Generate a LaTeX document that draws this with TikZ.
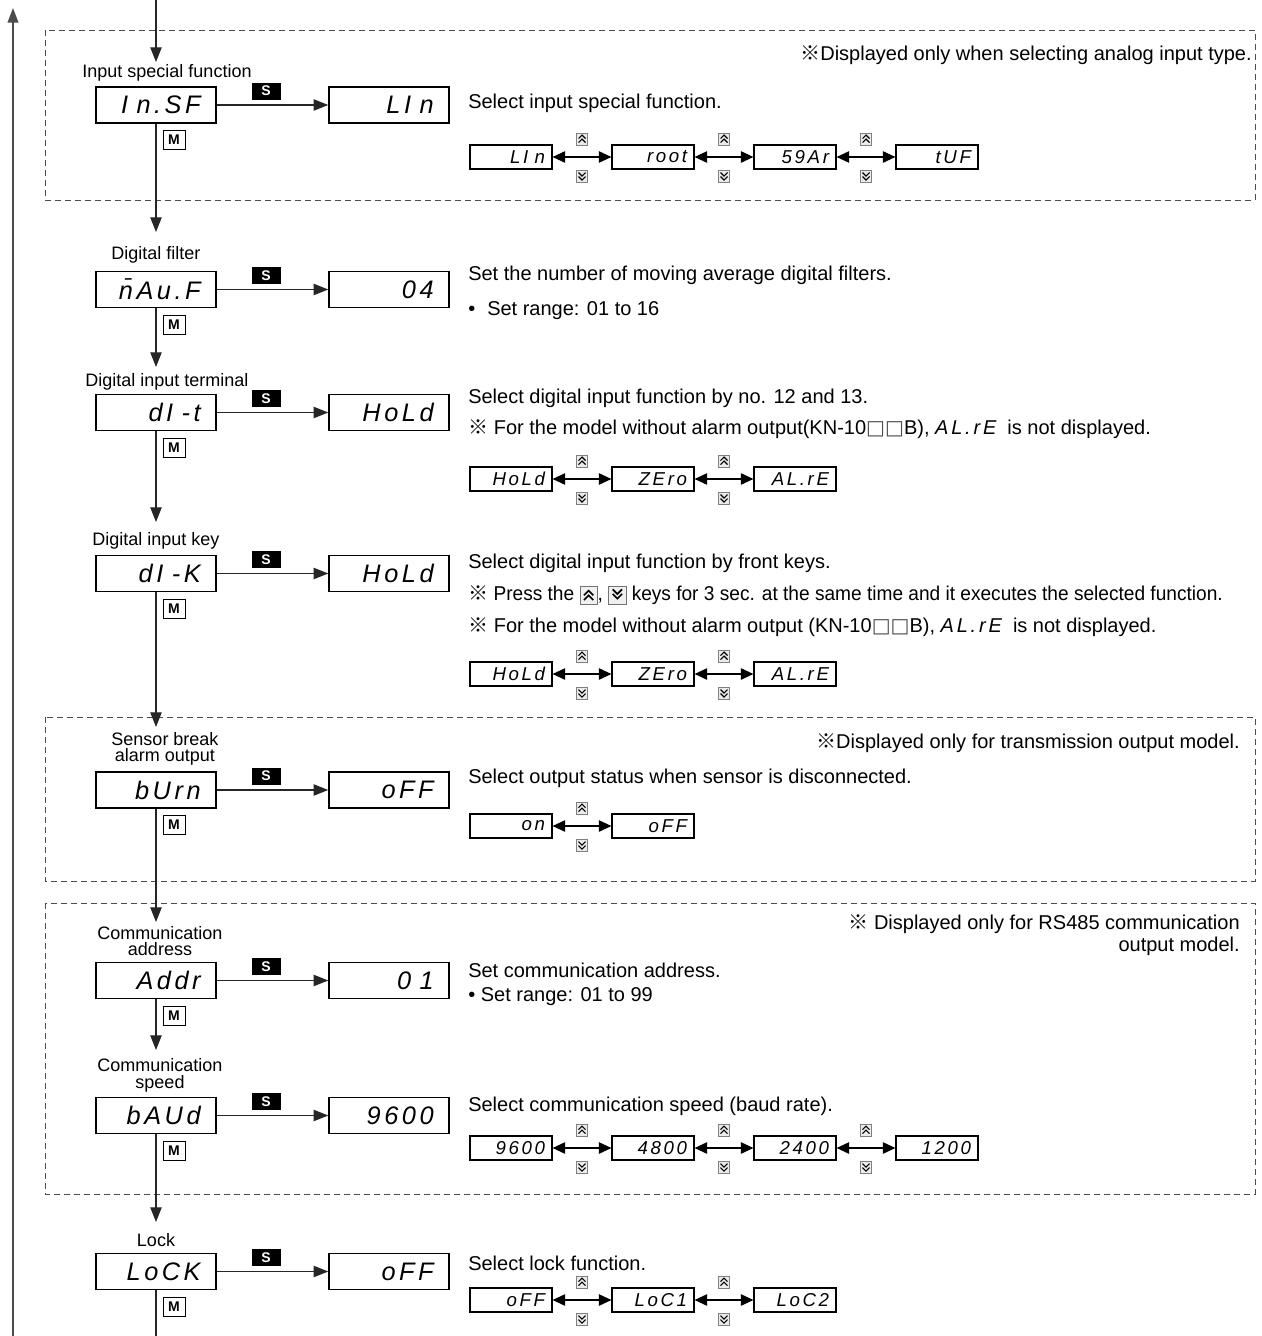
\documentclass[tikz,border=0pt]{standalone}
\usepackage{fontspec}
\setmainfont{Liberation Sans}
\newfontfamily\dispfont[LetterSpace=14]{Liberation Sans}
\newfontfamily\symfont{DejaVu Sans}
\newfontfamily\cjkfont{Noto Sans CJK JP}
\usetikzlibrary{arrows.meta}
\newcommand{\refmark}{{\cjkfont ※}}
\newcommand{\sqbox}{{\symfont\color{black!70}□}}
\newcommand{\dispbig}{\dispfont\itshape\fontsize{19}{19}\selectfont}
\newcommand{\dispsmall}{\dispfont\itshape\fontsize{14}{14}\selectfont}
\newcommand{\dispinline}{\dispfont\itshape\fontsize{15}{15}\selectfont}
\newcommand{\upicon}{\tikz[x=1pt,y=1pt,baseline={(0,-1)}]{\draw[line width=0.6pt,draw=black!55,fill=black!6] (0,-2) rectangle (13,11);\draw[line width=1.2pt] (3,4.5) -- (6.5,8) -- (10,4.5) (3,1) -- (6.5,4.5) -- (10,1);}}
\newcommand{\dnicon}{\tikz[x=1pt,y=1pt,baseline={(0,-1)}]{\draw[line width=0.6pt,draw=black!55,fill=black!6] (0,-2) rectangle (13,11);\draw[line width=1.2pt] (3,5.5) -- (6.5,2) -- (10,5.5) (3,9) -- (6.5,5.5) -- (10,9);}}
\tikzset{
  mainbox/.style={draw=black, line width=1.1pt, minimum width=90pt, minimum height=27pt, text width=87pt, inner xsep=1.5pt, inner ysep=0pt, align=right, font=\dispbig},
  chainbox/.style={draw=black, line width=0.8pt, minimum width=61.5pt, minimum height=18pt, text width=59pt, inner xsep=1.25pt, inner ysep=0pt, align=right, font=\dispsmall},
  flow/.style={draw=black!85, line width=0.9pt, -{Triangle[length=11pt,width=8.5pt]}},
  plainline/.style={draw=black!85, line width=0.9pt},
  returnline/.style={draw=black!70, line width=1.3pt, -{Triangle[length=11pt,width=8pt]}},
  chainarrow/.style={draw=black, line width=1.3pt, {Triangle[length=9.5pt,width=8.5pt]}-{Triangle[length=9.5pt,width=8.5pt]}},
  skey/.style={fill=black, text=white, font=\bfseries\fontsize{10.5}{10.5}\selectfont, minimum width=21.75pt, minimum height=12.75pt, inner sep=0pt},
  mkey/.style={draw=black, line width=0.6pt, fill=white, font=\bfseries\fontsize{10.5}{10.5}\selectfont, minimum width=16.5pt, minimum height=14.25pt, inner sep=0pt},
  lbl/.style={font=\fontsize{13.5}{12.5}\selectfont, align=center, inner sep=0pt},
  desc/.style={anchor=west, font=\fontsize{15}{18}\selectfont, inner sep=0pt},
  note/.style={anchor=east, font=\fontsize{15}{16.5}\selectfont, inner sep=0pt, align=right},
  dashedframe/.style={draw=black!70, line width=0.75pt, dash pattern=on 4.5pt off 3pt},
  upkey/.pic={\draw[line width=0.5pt,draw=black!50,fill=black!8] (-5.5,-6) rectangle (5.5,6);\draw[line width=0.8pt] (-3.5,-0.5) -- (0,-4) -- (3.5,-0.5) (-3.5,3.5) -- (0,0) -- (3.5,3.5);},
  dnkey/.pic={\draw[line width=0.5pt,draw=black!50,fill=black!8] (-5.5,-6) rectangle (5.5,6);\draw[line width=0.8pt] (-3.5,0.5) -- (0,4) -- (3.5,0.5) (-3.5,-3.5) -- (0,0) -- (3.5,-3.5);}
}
\newcommand{\paramrow}[4]{%
  \node[mainbox] (#1) at (156,#2) {#3\kern10pt};
  \node[mainbox] (#1v) at (389,#2) {#4\kern10pt};
  \draw[flow] (#1.east) -- (#1v.west);
  \node[skey] (#1s) at (266,#2-14) {S};
  \node[mkey] (#1m) at (174,#2+35) {M};
}
\newcommand{\cbox}[4]{\node[chainbox] (#1) at (#2,#3) {#4\kern4pt};}
\newcommand{\clink}[4]{%
  \draw[chainarrow] (#1.east) -- (#2.west);
  \pic at (#3,#4-18) {upkey};
  \pic at (#3,#4+19) {dnkey};
}
\begin{document}
\begin{tikzpicture}[x=0.75pt,y=-0.75pt]
\useasboundingbox (0,0) rectangle (1261,1336);
\fill[white] (0,0) rectangle (1261,1336);

% dashed frames
\draw[dashedframe] (45,30) rectangle (1255,200);
\draw[dashedframe] (45,717) rectangle (1255,881);
\draw[dashedframe] (45,903) rectangle (1255,1194);

% return line
\coordinate (rb) at (13,1336);
\coordinate (rt) at (13,8);
\draw[returnline] (rb) -- (rt);

% parameter rows
\paramrow{p1}{105}{I n.SF}{LI n}
\paramrow{p2}{289.5}{\=nAu.F}{04}
\paramrow{p3}{412.5}{dI -t}{HoLd}
\paramrow{p4}{573.5}{dI -K}{HoLd}
\paramrow{p5}{790}{bUrn}{oFF}
\paramrow{p6}{980.5}{Addr}{0 1}
\paramrow{p7}{1115.5}{bAUd}{9600}
\paramrow{p8}{1271.5}{LoCK}{oFF}

% labels
\node[lbl] (l1) at (167,73) {Input special function};
\node[lbl] (l2) at (156,255) {Digital filter};
\node[lbl] (l3) at (167,382) {Digital input terminal};
\node[lbl] (l4) at (156,541) {Digital input key};
\node[lbl] (l5) at (165,749) {Sensor break\\alarm output};
\node[lbl] (l6) at (160,941) {Communication\\address};
\node[lbl] (l7) at (160,1075) {Communication\\speed};
\node[lbl] (l8) at (156,1240) {Lock};

% main flow
\coordinate (top) at (156,0);
\coordinate (in1) at (156,62);
\coordinate (in2) at (156,232);
\coordinate (in3) at (156,367);
\coordinate (in4) at (156,522);
\coordinate (in5) at (156,727);
\coordinate (in6) at (156,922);
\coordinate (in7) at (156,1050);
\coordinate (in8) at (156,1222);
\coordinate (bot) at (156,1336);
\draw[flow] (top) -- (in1);
\draw[flow] (p1.south) -- (in2);
\draw[flow] (p2.south) -- (in3);
\draw[flow] (p3.south) -- (in4);
\draw[flow] (p4.south) -- (in5);
\draw[flow] (p5.south) -- (in6);
\draw[flow] (p6.south) -- (in7);
\draw[flow] (p7.south) -- (in8);
\draw[plainline] (p8.south) -- (bot);

% section 1
\node[note] (n1) at (1252,55) {\refmark{}Displayed only when selecting analog input type.};
\node[desc] (d1) at (468,103) {Select input special function.};
\cbox{c11}{511}{157}{LI n}
\cbox{c12}{653}{157}{root}
\cbox{c13}{795}{157}{59Ar}
\cbox{c14}{937}{157}{tUF}
\clink{c11}{c12}{582}{157}
\clink{c12}{c13}{724}{157}
\clink{c13}{c14}{866}{157}

% section 2
\node[desc] (d2) at (468,275) {Set the number of moving average digital filters.};
\node[desc] (d2b) at (468,311) {•\hspace{9pt}Set range: 01 to 16};

% section 3
\node[desc] (d3) at (468,398) {Select digital input function by no. 12 and 13.};
\node[desc] (d3b) at (468,429) {\refmark{} For the model without alarm output(KN-10\sqbox\sqbox B), {\dispinline AL.rE}\ \ is not displayed.};
\cbox{c31}{511}{479}{HoLd}
\cbox{c32}{653}{479}{ZEro}
\cbox{c33}{795}{479}{AL.rE}
\clink{c31}{c32}{582}{479}
\clink{c32}{c33}{724}{479}

% section 4
\node[desc] (d4) at (468,563) {Select digital input function by front keys.};
\node[desc] (d4b) at (468,595) {\addfontfeature{FakeStretch=0.955}\refmark{} Press the \upicon, \dnicon\ keys for 3 sec. at the same time and it executes the selected function.};
\node[desc] (d4c) at (468,627) {\refmark{} For the model without alarm output (KN-10\sqbox\sqbox B), {\dispinline AL.rE}\ \ is not displayed.};
\cbox{c41}{511}{674}{HoLd}
\cbox{c42}{653}{674}{ZEro}
\cbox{c43}{795}{674}{AL.rE}
\clink{c41}{c42}{582}{674}
\clink{c42}{c43}{724}{674}

% section 5
\node[note] (n5) at (1240,743) {\refmark{}Displayed only for transmission output model.};
\node[desc] (d5) at (468,778) {Select output status when sensor is disconnected.};
\cbox{c51}{511}{826}{on}
\cbox{c52}{653}{826}{oFF}
\clink{c51}{c52}{582}{826}

% section 6
\node[note, anchor=north east] (n6) at (1240,914) {\refmark{} Displayed only for RS485 communication\\output model.};
\node[desc] (d6) at (468,970) {Set communication address.};
\node[desc] (d6b) at (468,997) {• Set range: 01 to 99};
\node[desc] (d7) at (468,1106) {Select communication speed (baud rate).};
\cbox{c71}{511}{1148}{9600}
\cbox{c72}{653}{1148}{4800}
\cbox{c73}{795}{1148}{2400}
\cbox{c74}{937}{1148}{1200}
\clink{c71}{c72}{582}{1148}
\clink{c72}{c73}{724}{1148}
\clink{c73}{c74}{866}{1148}

% section 7
\node[desc] (d8) at (468,1263) {Select lock function.};
\cbox{c81}{511}{1300}{oFF}
\cbox{c82}{653}{1300}{LoC1}
\cbox{c83}{795}{1300}{LoC2}
\clink{c81}{c82}{582}{1300}
\clink{c82}{c83}{724}{1300}
\end{tikzpicture}
\end{document}
